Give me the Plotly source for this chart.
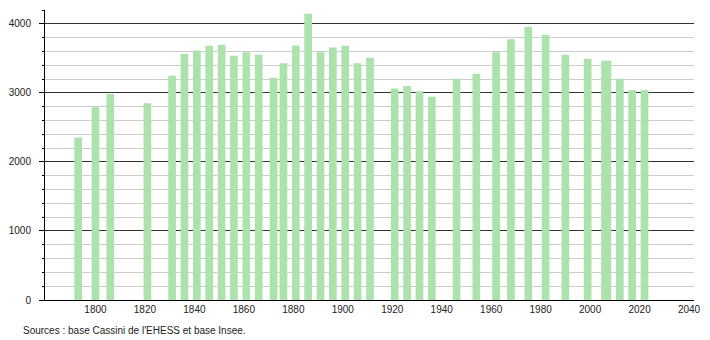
import plotly.graph_objects as go

years = [1793, 1800, 1806, 1821, 1831, 1836, 1841, 1846, 1851, 1856, 1861, 1866,
         1872, 1876, 1881, 1886, 1891, 1896, 1901, 1906, 1911, 1921, 1926, 1931,
         1936, 1946, 1954, 1962, 1968, 1975, 1982, 1990, 1999, 2006, 2007, 2012,
         2017, 2022]
population = [2352, 2792, 2985, 2850, 3246, 3565, 3613, 3681, 3696, 3536, 3589, 3551,
              3217, 3430, 3686, 4145, 3589, 3657, 3681, 3430, 3507, 3063, 3101, 3024,
              2942, 3203, 3275, 3589, 3778, 3956, 3841, 3551, 3493, 3464, 3464, 3203,
              3043, 3043]
x_ticks = [1800, 1820, 1840, 1860, 1880, 1900, 1920, 1940, 1960, 1980, 2000, 2020, 2040]
y_ticks = [0, 1000, 2000, 3000, 4000]
source_text = "Sources : base Cassini de l'EHESS et base Insee."

W, H = 710, 340
L, R, T, B = 44, 9, 10, 40

fig = go.Figure()
fig.add_trace(go.Bar(
    x=years, y=population, width=3.1,
    marker=dict(color="rgb(172,226,172)", line=dict(width=0)),
    hoverinfo="x+y",
))

fig.update_layout(
    width=W, height=H,
    margin=dict(l=L, r=R, t=T, b=B, pad=0),
    paper_bgcolor="white", plot_bgcolor="white",
    showlegend=False,
    font=dict(family="Liberation Sans, Arial, sans-serif", size=10, color="#222"),
    xaxis=dict(
        range=[1779.6, 2042.0], tickmode="array", tickvals=x_ticks,
        ticktext=[str(v) for v in x_ticks],
        showgrid=False, zeroline=False, showline=True, linecolor="#000", linewidth=1,
        ticks="", tickfont=dict(size=10, color="#222"),
    ),
    yaxis=dict(
        range=[0, 4200], tickmode="array", tickvals=y_ticks,
        ticktext=[str(v) for v in y_ticks],
        showgrid=True, gridcolor="#333", gridwidth=1,
        zeroline=False, showline=True, linecolor="#000", linewidth=1,
        ticks="outside", ticklen=5, tickcolor="#000", tickwidth=1,
        ticklabelstandoff=6,
        tickfont=dict(size=10, color="#222"),
        minor=dict(dtick=200, tick0=0, showgrid=True, gridcolor="#cccccc", gridwidth=1,
                   ticks="outside", ticklen=2, tickcolor="#000"),
    ),
    annotations=[dict(
        text=source_text, xref="paper", yref="paper",
        x=(20 - L) / (W - L - R), y=-(330 - (H - B)) / (H - T - B),
        xanchor="left", yanchor="middle", showarrow=False,
        font=dict(size=10, color="#222"),
    )],
)

fig.write_html("out.html")
